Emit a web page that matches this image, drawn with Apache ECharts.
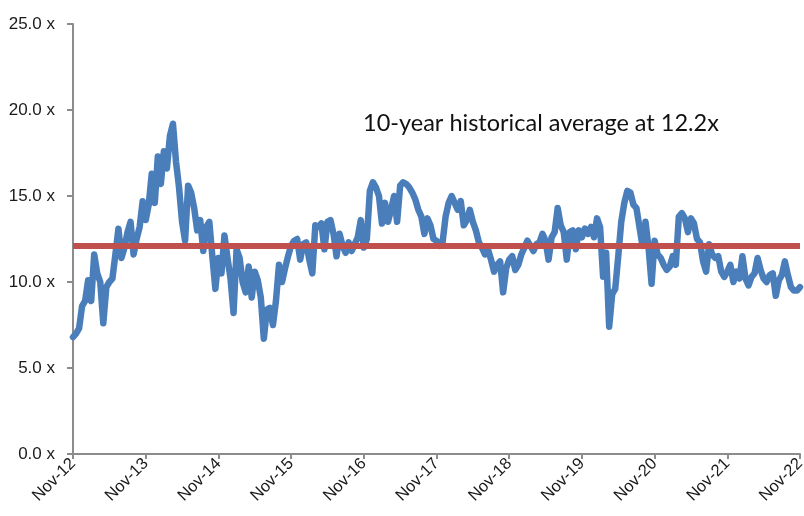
<!DOCTYPE html>
<html>
<head>
<meta charset="utf-8">
<script src="https://cdn.jsdelivr.net/npm/echarts@6/dist/echarts.min.js"></script>
<style>
html,body{margin:0;padding:0;background:#fff;}
#chart{width:804px;height:516px;}
</style>
</head>
<body>
<div id="chart"></div>
<script>
// Tick labels for the yearly x-axis ticks (Nov of each year)
const yearLabels = ['Nov-12','Nov-13','Nov-14','Nov-15','Nov-16','Nov-17','Nov-18','Nov-19','Nov-20','Nov-21','Nov-22'];
// Points per year (half-monthly readings)
const pointsPerYear = 24;
// Forward P/E readings, half-monthly from Nov-12 to Nov-22
const peValues = [
  6.8, 7.0, 7.3, 8.6, 8.9, 10.1, 8.9, 11.6, 10.5, 10.0,
  7.6, 9.7, 10.0, 10.2, 11.6, 13.1, 11.4, 12.0, 12.9, 13.5,
  11.6, 12.5, 13.2, 14.7, 13.6, 14.5, 16.3, 14.6, 17.3, 15.7,
  17.6, 16.6, 18.5, 19.2, 17.0, 15.5, 13.5, 12.4, 15.6, 15.2,
  14.3, 13.0, 13.6, 11.8, 13.2, 13.5, 11.5, 9.6, 11.4, 10.5,
  12.7, 11.4, 10.2, 8.2, 11.9, 11.4, 10.0, 9.4, 10.9, 9.1,
  10.6, 10.1, 9.1, 6.7, 8.4, 8.5, 7.5, 8.9, 11.0, 10.0,
  10.8, 11.5, 12.1, 12.4, 12.5, 11.3, 12.2, 12.3, 11.3, 10.5,
  13.3, 13.2, 13.4, 11.9, 13.5, 13.6, 12.8, 11.5, 12.8, 12.1,
  11.7, 12.3, 11.8, 12.2, 12.6, 13.6, 12.0, 12.5, 15.3, 15.8,
  15.5, 15.0, 13.4, 14.6, 13.5, 14.2, 15.0, 13.5, 15.6, 15.8,
  15.7, 15.5, 15.2, 14.8, 14.2, 13.8, 12.8, 13.7, 13.3, 12.5,
  12.4, 12.1, 12.3, 13.8, 14.6, 15.0, 14.6, 14.2, 14.7, 13.3,
  13.6, 14.2, 13.5, 13.0, 12.3, 12.0, 11.6, 11.9, 11.3, 10.6,
  11.0, 11.2, 9.4, 10.8, 11.3, 11.5, 10.7, 11.0, 11.6, 12.0,
  12.4, 12.1, 11.8, 12.2, 12.3, 12.8, 12.4, 11.3, 12.6, 12.9,
  14.3, 13.3, 12.9, 11.3, 12.9, 13.0, 11.9, 13.0, 12.6, 13.1,
  12.8, 13.2, 12.6, 13.7, 13.2, 10.3, 11.7, 7.4, 9.3, 9.6,
  11.5, 13.5, 14.6, 15.3, 15.2, 14.5, 14.3, 13.2, 12.1, 13.5,
  12.0, 9.9, 12.4, 11.6, 11.4, 11.0, 10.7, 10.9, 11.5, 11.0,
  13.8, 14.0, 13.7, 12.9, 13.7, 13.4, 12.5, 12.3, 11.2, 10.6,
  12.2, 11.6, 11.4, 11.5, 10.6, 10.3, 10.6, 11.0, 10.0, 10.6,
  10.2, 11.5, 10.2, 9.8, 10.3, 10.5, 11.4, 10.7, 10.2, 10.0,
  10.4, 10.5, 9.2, 10.1, 10.4, 11.2, 10.4, 9.7, 9.5, 9.5, 9.7
];
// Drawn level of the historical-average line and its caption
const avgValue = 12.1;
const avgCaption = '10-year historical average at 12.2x';

const seriesData = peValues.map((v, i) => [i / pointsPerYear, v]);
const lastX = yearLabels.length - 1;
const avgData = [[0, avgValue], [lastX, avgValue]];

const chart = echarts.init(document.getElementById('chart'), null, {renderer: 'canvas'});
const axisGray = '#8c8c8c';
chart.setOption({
  animation: false,
  backgroundColor: '#ffffff',
  grid: {left: 73, right: 4, top: 24, bottom: 62, containLabel: false, outerBoundsMode: 'none'},
  xAxis: {
    type: 'value', min: 0, max: lastX, interval: 1,
    axisLine: {show: true, onZero: false, lineStyle: {color: axisGray, width: 2}},
    axisTick: {show: true, inside: false, length: 5, lineStyle: {color: axisGray, width: 2}},
    splitLine: {show: false},
    axisLabel: {
      rotate: 45, margin: 7,
      fontFamily: 'Liberation Sans, Arial, sans-serif', fontSize: 16.5, color: '#1a1a1a',
      formatter: (v) => yearLabels[Math.round(v)] || ''
    }
  },
  yAxis: {
    type: 'value', min: 0, max: 25, interval: 5,
    axisLine: {show: true, lineStyle: {color: axisGray, width: 2}},
    axisTick: {show: true, inside: false, length: 6, lineStyle: {color: axisGray, width: 2}},
    splitLine: {show: false},
    axisLabel: {
      margin: 18,
      fontFamily: 'Liberation Sans, Arial, sans-serif', fontSize: 17, color: '#1a1a1a',
      formatter: (v) => v.toFixed(1) + ' x'
    }
  },
  series: [
    {
      name: 'P/E', type: 'line', data: seriesData,
      showSymbol: false, symbol: 'none', smooth: false,
      lineStyle: {color: '#4a7ebb', width: 6.5, join: 'round', cap: 'round'},
      z: 2
    },
    {
      name: 'Average', type: 'line', data: avgData,
      showSymbol: false, symbol: 'none',
      lineStyle: {color: '#c0504d', width: 6, cap: 'butt'},
      z: 3
    }
  ],
  graphic: [{
    type: 'text', left: 363, top: 111, z: 10,
    style: {text: avgCaption, fill: '#111111', fontFamily: 'Lato, Open Sans, sans-serif', fontSize: 23.5}
  }]
});
</script>
</body>
</html>
